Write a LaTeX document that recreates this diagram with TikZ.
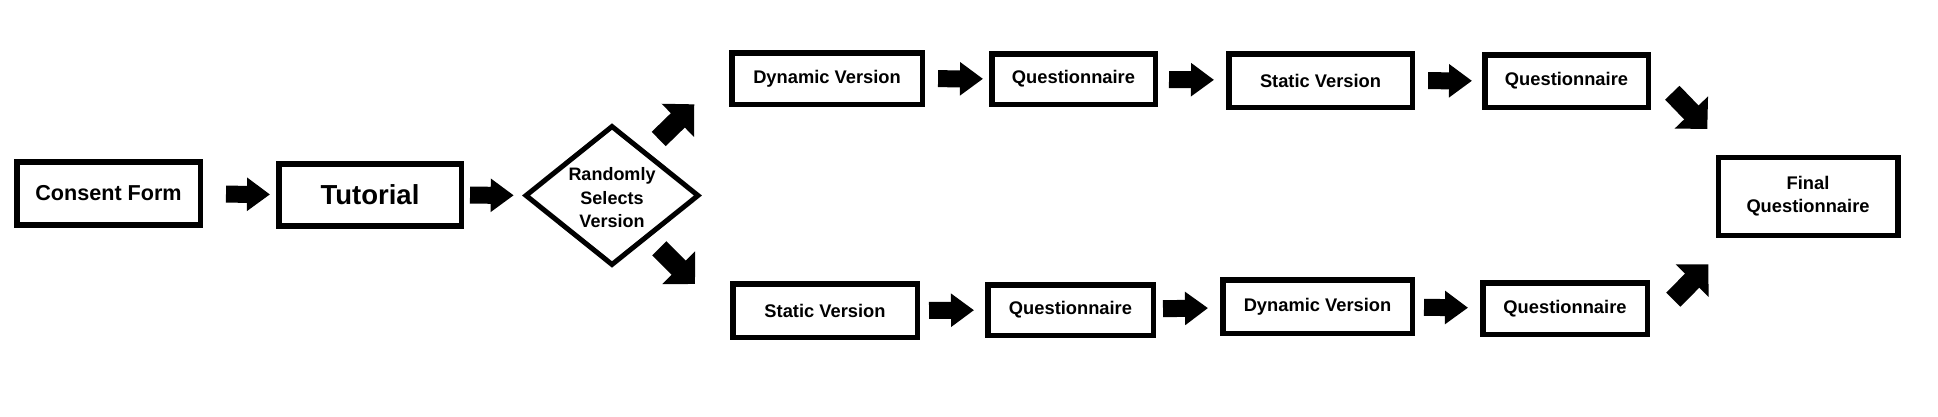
\documentclass[tikz,border=0pt]{standalone}
\usepackage{fontspec}
\setmainfont{Liberation Sans}
\usetikzlibrary{shapes.geometric,arrows.meta}
\tikzset{
  box/.style={draw, line width=5.5pt, inner sep=0pt, align=center,
    font=\bfseries\fontsize{18.3}{23}\selectfont},
  decision/.style={draw, diamond, line width=5pt, inner sep=0pt, align=center,
    shape aspect=1.25, font=\bfseries\fontsize{18}{23.5}\selectfont},
  harr/.style={line width=17pt, -{Triangle[length=23pt,width=32pt]}},
  darr/.style={line width=20pt, -{Triangle[length=23pt,width=45pt]}},
}
\begin{document}
\begin{tikzpicture}[x=1pt,y=-1pt]
\useasboundingbox (0,0) rectangle (1938,416);
\fill[white] (0,0) rectangle (1938,416);

% left part
\node[box, minimum width=183.5pt, minimum height=63pt,
  font=\bfseries\fontsize{21.6}{26}\selectfont] (consent) at (108.5,193.5) {Consent Form};
\node[box, minimum width=182.5pt, minimum height=62pt,
  font=\bfseries\fontsize{27.5}{32}\selectfont] (tutorial) at (370,195) {Tutorial};
\node[decision, minimum width=174pt, minimum height=140pt] (rand) at (612,195.5)
  {\rule{0pt}{18pt}Randomly\\Selects\\Version};

% top row
\node[box, minimum width=190.5pt, minimum height=51.5pt] (dyn1) at (827,78.5) {Dynamic Version};
\node[box, minimum width=163.5pt, minimum height=50.5pt] (q1) at (1073.5,79) {Questionnaire};
\node[box, minimum width=183.5pt, minimum height=53.5pt] (stat1) at (1320.5,80.5) {Static Version};
\node[box, minimum width=163.5pt, minimum height=52.5pt] (q2) at (1566.5,81) {Questionnaire};

% bottom row
\node[box, minimum width=184.5pt, minimum height=53.5pt] (stat2) at (825,310.5) {Static Version};
\node[box, minimum width=165.5pt, minimum height=50.5pt] (q3) at (1070.5,310) {Questionnaire};
\node[box, minimum width=189.5pt, minimum height=53.5pt] (dyn2) at (1317.5,306.5) {Dynamic Version};
\node[box, minimum width=164.5pt, minimum height=51.5pt] (q4) at (1565,308.5) {Questionnaire};

% final
\node[box, minimum width=179.5pt, minimum height=78pt] (final) at (1808,196.5) {Final\\Questionnaire};

% horizontal block arrows
\draw[harr, shorten <=23pt, shorten >=6pt] (consent) -- (tutorial);
\draw[harr, shorten <=6pt, shorten >=9pt] (tutorial) -- (rand);
\draw[harr, shorten <=13pt, shorten >=6pt] (dyn1) -- (q1);
\draw[harr, shorten <=11pt, shorten >=12pt] (q1) -- (stat1);
\draw[harr, shorten <=13pt, shorten >=10pt] (stat1) -- (q2);
\draw[harr, shorten <=9pt, shorten >=11pt] (stat2) -- (q3);
\draw[harr, shorten <=7pt, shorten >=12pt] (q3) -- (dyn2);
\draw[harr, shorten <=9pt, shorten >=12pt] (dyn2) -- (q4);

% diagonal block arrows
\coordinate (upS) at (658.7,139);
\coordinate (upE) at (694.3,104.3);
\coordinate (dnS) at (659.3,248.3);
\coordinate (dnE) at (695,284);
\coordinate (fdS) at (1672.3,92.7);
\coordinate (fdE) at (1707.3,129);
\coordinate (fuS) at (1673.3,299.7);
\coordinate (fuE) at (1708.3,264.3);
\draw[darr] (upS) -- (upE);
\draw[darr] (dnS) -- (dnE);
\draw[darr] (fdS) -- (fdE);
\draw[darr] (fuS) -- (fuE);
\end{tikzpicture}
\end{document}
